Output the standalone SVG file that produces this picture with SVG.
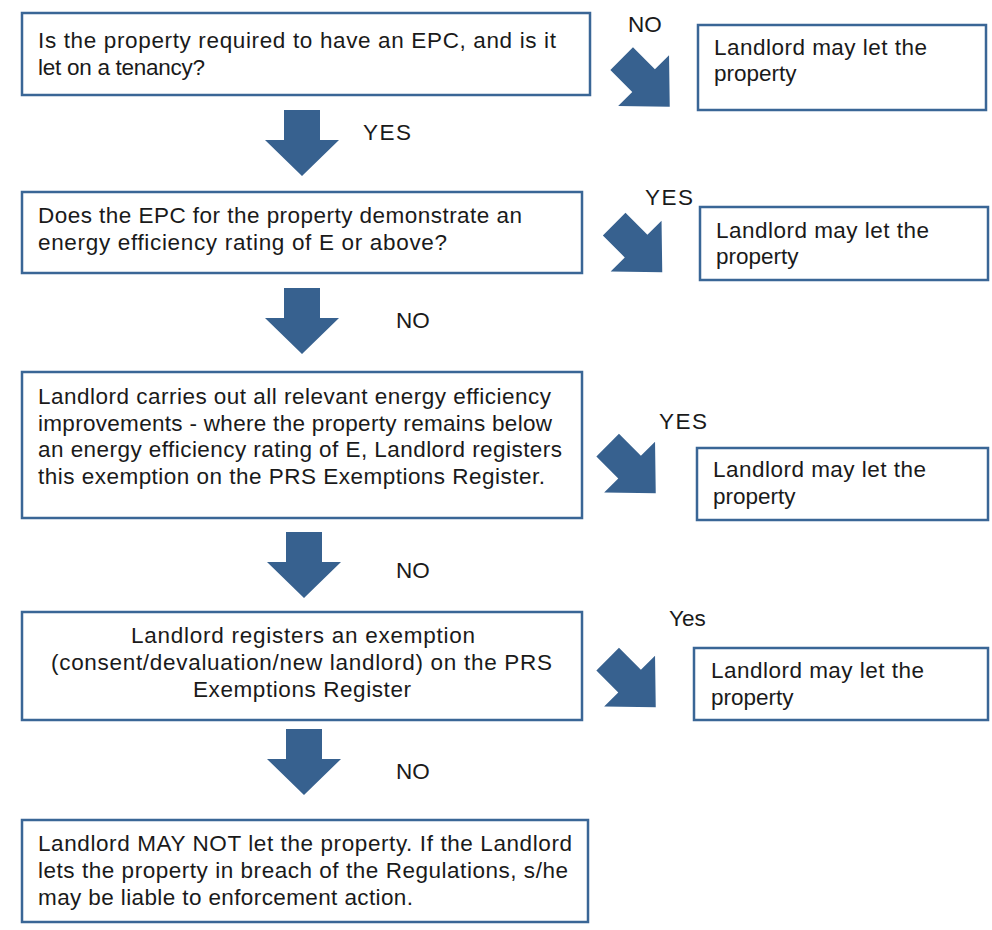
<svg xmlns="http://www.w3.org/2000/svg" width="992" height="930" viewBox="0 0 992 930">
<style>
.box{fill:#fff;stroke:#3A6696;stroke-width:2.5}
.t{font-family:"Liberation Sans",Arial,sans-serif;font-size:22.5px;fill:#1a1a1a}
.lbl{font-family:"Liberation Sans",Arial,sans-serif;font-size:22.5px;fill:#1a1a1a}
.arr{fill:#37618F}
</style>
<defs>
<path id="down" d="M-18,0 H18 V30 H37 L0,66 L-37,30 H-18 Z"/>
<path id="diag" d="M-33,-16 H-2 V-36 L35,0 L-2,36 V16 H-33 Z"/>
</defs>
<rect width="992" height="930" fill="#fff"/>
<g id="connectors">
<use href="#down" class="arr" x="302" y="110"/>
<use href="#down" class="arr" x="302" y="288"/>
<use href="#down" class="arr" x="304" y="532"/>
<use href="#down" class="arr" x="304" y="729"/>
<use href="#diag" class="arr" transform="translate(645,82) rotate(45)"/>
<use href="#diag" class="arr" transform="translate(637.5,247.5) rotate(45)"/>
<use href="#diag" class="arr" transform="translate(631,468.5) rotate(45)"/>
<use href="#diag" class="arr" transform="translate(631,682.5) rotate(45)"/>
<text class="lbl" x="363" y="140" textLength="48" lengthAdjust="spacing">YES</text>
<text class="lbl" x="628" y="32">NO</text>
<text class="lbl" x="645" y="205" textLength="48" lengthAdjust="spacing">YES</text>
<text class="lbl" x="396" y="328">NO</text>
<text class="lbl" x="659" y="429" textLength="48" lengthAdjust="spacing">YES</text>
<text class="lbl" x="396" y="578">NO</text>
<text class="lbl" x="669" y="626">Yes</text>
<text class="lbl" x="396" y="779">NO</text>
</g>
<g id="q1">
<rect class="box" x="22" y="13" width="568" height="82"/>
<text class="t" x="38" y="48" textLength="518" lengthAdjust="spacing">Is the property required to have an EPC, and is it</text>
<text class="t" x="38" y="75" textLength="167" lengthAdjust="spacing">let on a tenancy?</text>
</g>
<g id="r1">
<rect class="box" x="698" y="25" width="288" height="85"/>
<text class="t" x="714" y="55" textLength="213" lengthAdjust="spacing">Landlord may let the</text>
<text class="t" x="714" y="81">property</text>
</g>
<g id="q2">
<rect class="box" x="22" y="192" width="560" height="81"/>
<text class="t" x="38" y="223" textLength="484" lengthAdjust="spacing">Does the EPC for the property demonstrate an</text>
<text class="t" x="38" y="250" textLength="409" lengthAdjust="spacing">energy efficiency rating of E or above?</text>
</g>
<g id="r2">
<rect class="box" x="700" y="207" width="288" height="73"/>
<text class="t" x="716" y="238" textLength="213" lengthAdjust="spacing">Landlord may let the</text>
<text class="t" x="716" y="264">property</text>
</g>
<g id="q3">
<rect class="box" x="22" y="372" width="560" height="146"/>
<text class="t" x="38" y="404" textLength="513" lengthAdjust="spacing">Landlord carries out all relevant energy efficiency</text>
<text class="t" x="38" y="431" textLength="514" lengthAdjust="spacing">improvements - where the property  remains below</text>
<text class="t" x="38" y="457" textLength="524" lengthAdjust="spacing">an energy efficiency rating of E, Landlord registers</text>
<text class="t" x="38" y="484" textLength="507" lengthAdjust="spacing">this exemption on the PRS Exemptions Register.</text>
</g>
<g id="r3">
<rect class="box" x="697" y="448" width="291" height="72"/>
<text class="t" x="713" y="477" textLength="213" lengthAdjust="spacing">Landlord may let the</text>
<text class="t" x="713" y="504">property</text>
</g>
<g id="q4">
<rect class="box" x="22" y="612" width="560" height="108"/>
<text class="t" x="131" y="643" textLength="344" lengthAdjust="spacing">Landlord registers an exemption</text>
<text class="t" x="51" y="670" textLength="501" lengthAdjust="spacing">(consent/devaluation/new landlord) on the PRS</text>
<text class="t" x="193" y="697" textLength="218" lengthAdjust="spacing">Exemptions Register</text>
</g>
<g id="r4">
<rect class="box" x="694" y="648" width="294" height="72"/>
<text class="t" x="711" y="678" textLength="213" lengthAdjust="spacing">Landlord may let the</text>
<text class="t" x="711" y="705">property</text>
</g>
<g id="end">
<rect class="box" x="22" y="820" width="566" height="102"/>
<text class="t" x="38" y="851" textLength="534" lengthAdjust="spacing">Landlord MAY NOT let the property. If the Landlord</text>
<text class="t" x="38" y="878" textLength="530" lengthAdjust="spacing">lets the property in breach of the Regulations, s/he</text>
<text class="t" x="38" y="905" textLength="375" lengthAdjust="spacing">may be liable to enforcement action.</text>
</g>
</svg>
